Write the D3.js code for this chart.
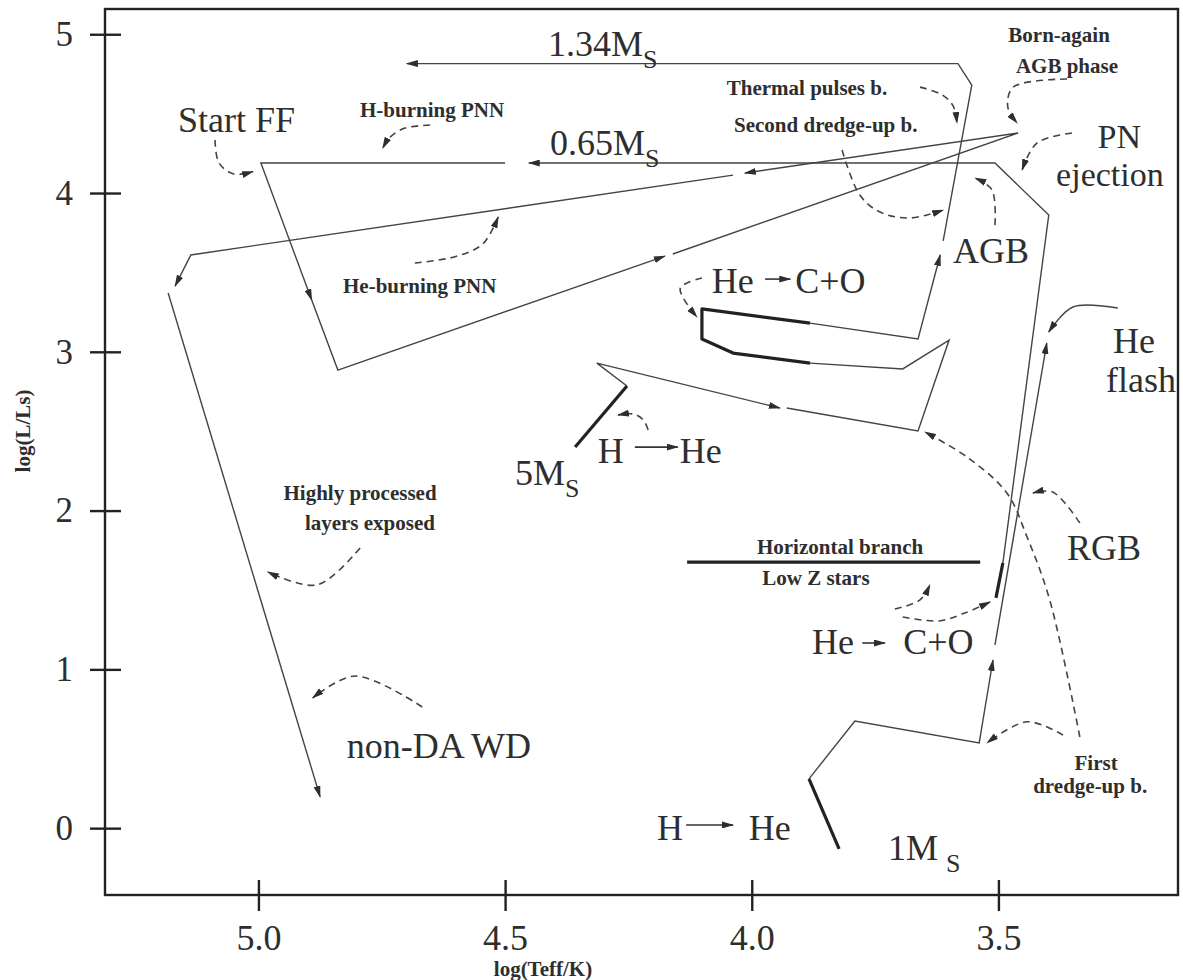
<!DOCTYPE html>
<html>
<head>
<meta charset="utf-8">
<script src="https://cdn.jsdelivr.net/npm/d3@7"></script>
<style>
  body { margin: 0; background: #fff; }
  svg { display: block; font-family: "Liberation Serif", "Times New Roman", serif; }
  .big { font-size: 36px; fill: #2e2e2e; }
  .note { font-size: 21px; font-weight: bold; fill: #2e2e2e; }
</style>
</head>
<body>
<svg width="1183" height="980"></svg>
<script>
// axes
const xTicks = [5.0, 4.5, 4.0, 3.5];
const yTicks = [0, 1, 2, 3, 4, 5];

// tracks as [log Teff, log L/Ls]
// thick parts (nuclear burning phases)
const thickTracks = [
  [[3.823, -0.131], [3.884, 0.310]],                                          // 1Ms main sequence
  [[3.505, 1.450], [3.491, 1.670]],                                           // 1Ms He core burning
  [[4.358, 2.400], [4.253, 2.785]],                                           // 5Ms main sequence
  [[3.882, 2.929], [4.038, 2.992], [4.101, 3.081], [4.101, 3.270], [3.882, 3.181]], // 5Ms blue loop
  [[4.131, 1.676], [3.537, 1.676]]                                            // horizontal branch
];

// thin parts ending with an arrow head
const arrowTracks = [
  [[3.884, 0.310], [3.791, 0.675], [3.539, 0.537], [3.511, 1.059]],
  [[3.507, 1.154], [3.402, 3.055]],
  [[3.491, 1.670], [3.398, 3.861], [3.507, 4.189], [4.452, 4.189]],
  [[4.500, 4.189], [4.995, 4.189], [4.892, 3.326]],
  [[4.892, 3.326], [4.839, 2.885], [4.176, 3.603]],
  [[4.160, 3.616], [3.460, 4.378], [4.014, 4.126]],
  [[4.038, 4.113], [5.137, 3.610], [5.169, 3.414]],
  [[5.183, 3.370], [4.875, 0.197]],
  [[4.253, 2.785], [4.314, 2.929], [3.943, 2.646]],
  [[3.882, 3.181], [3.663, 3.081], [3.618, 3.610]],
  [[3.612, 3.698], [3.554, 4.680], [3.582, 4.815], [4.699, 4.815]]
];

// thin parts without arrow
const plainTracks = [
  [[3.929, 2.646], [3.663, 2.501], [3.600, 3.074], [3.694, 2.892], [3.882, 2.929]]
];

// dashed pointers from the notes
const pointers = [
  [[5.088, 4.334], [5.080, 4.190], [5.050, 4.120], [5.011, 4.135]],
  [[4.652, 4.428], [4.703, 4.409], [4.733, 4.352], [4.748, 4.283]],
  [[4.683, 3.559], [4.600, 3.600], [4.545, 3.680], [4.514, 3.849]],
  [[3.659, 4.667], [3.615, 4.620], [3.592, 4.550], [3.584, 4.441]],
  [[3.817, 4.271], [3.781, 3.987], [3.740, 3.880], [3.679, 3.843], [3.612, 3.893]],
  [[3.361, 4.718], [3.470, 4.667], [3.481, 4.541], [3.462, 4.441]],
  [[3.351, 4.378], [3.422, 4.315], [3.452, 4.145]],
  [[3.507, 3.798], [3.513, 4.019], [3.547, 4.094]],
  [[4.101, 3.465], [4.145, 3.400], [4.111, 3.219]],
  [[4.210, 2.508], [4.220, 2.571], [4.240, 2.608], [4.271, 2.602]],
  [[3.335, 0.574], [3.396, 1.437], [3.442, 1.834], [3.483, 2.111], [3.564, 2.338], [3.649, 2.495]],
  [[3.369, 0.586], [3.442, 0.670], [3.523, 0.537]],
  [[3.335, 1.922], [3.390, 2.117], [3.430, 2.111]],
  [[3.710, 1.380], [3.659, 1.437], [3.639, 1.532]],
  [[3.694, 1.330], [3.621, 1.305], [3.568, 1.355], [3.517, 1.424]],
  [[4.794, 1.765], [4.881, 1.532], [4.981, 1.613]],
  [[4.668, 0.763], [4.804, 0.958], [4.890, 0.820]]
];

// He flash pointer (solid)
const flashPointer = [[3.258, 3.276], [3.349, 3.282], [3.398, 3.125]];

// small arrows inside the reaction labels
const textArrows = [
  [[3.973, 3.458], [3.922, 3.458]],
  [[3.776, 1.166], [3.730, 1.166]],
  [[4.237, 2.400], [4.150, 2.400]],
  [[4.133, 0.020], [4.038, 0.020]]
];

const bigLabels = [
  { text: '1.34M', sub: 'S', at: [4.413, 4.863] },
  { text: '0.65M', sub: 'S', at: [4.409, 4.239] },
  { text: 'Start FF', at: [5.163, 4.384] },
  { text: 'PN', at: [3.255, 4.284], anchor: 'middle', size: 34 },
  { text: 'ejection', at: [3.274, 4.044], anchor: 'middle', size: 34 },
  { text: 'AGB', at: [3.592, 3.559] },
  { text: 'He', at: [4.081, 3.370] },
  { text: 'C+O', at: [3.912, 3.370] },
  { text: 'H', at: [4.312, 2.300] },
  { text: 'He', at: [4.146, 2.300] },
  { text: '5M', sub: 'S', at: [4.480, 2.162] },
  { text: 'He', at: [3.225, 2.992], anchor: 'middle' },
  { text: 'flash', at: [3.211, 2.747], anchor: 'middle' },
  { text: 'RGB', at: [3.361, 1.689] },
  { text: 'He', at: [3.878, 1.097] },
  { text: 'C+O', at: [3.693, 1.097] },
  { text: 'non-DA WD', at: [4.821, 0.442] },
  { text: 'H', at: [4.192, -0.074] },
  { text: 'He', at: [4.006, -0.074] },
  { text: '1M', sub: 'S', at: [3.724, -0.200] }
];

const notes = [
  { text: 'H-burning PNN', at: [4.648, 4.479] },
  { text: 'He-burning PNN', at: [4.673, 3.370] },
  { text: 'Thermal pulses b.', at: [3.888, 4.617] },
  { text: 'Second dredge-up b.', at: [3.850, 4.384] },
  { text: 'Born-again', at: [3.377, 4.951] },
  { text: 'AGB phase', at: [3.361, 4.756] },
  { text: 'Highly processed', at: [4.794, 2.067] },
  { text: 'layers exposed', at: [4.774, 1.878] },
  { text: 'Horizontal branch', at: [3.821, 1.727] },
  { text: 'Low Z stars', at: [3.870, 1.531] },
  { text: 'First', at: [3.302, 0.367] },
  { text: 'dredge-up b.', at: [3.314, 0.222] }
];

let svg = d3.select('svg');

let x = d3.scaleLinear().domain([5.311, 3.136]).range([105, 1178]);
let y = d3.scaleLinear().domain([-0.421, 5.159]).range([895, 9]);

// arrow heads
let defs = svg.append('defs');
defs.append('marker')
  .attr('id', 'head')
  .attr('viewBox', '0 0 12 7')
  .attr('refX', 11).attr('refY', 3.5)
  .attr('markerWidth', 12).attr('markerHeight', 7)
  .attr('markerUnits', 'userSpaceOnUse')
  .attr('orient', 'auto')
  .append('path').attr('d', 'M0,0 L12,3.5 L0,7 Z').attr('fill', '#2e2e2e');

let line = d3.line().x(d => x(d[0])).y(d => y(d[1]));
let curve = d3.line().x(d => x(d[0])).y(d => y(d[1])).curve(d3.curveCatmullRom.alpha(0.5));

// frame
svg.append('rect')
  .attr('x', 105).attr('y', 9)
  .attr('width', 1178 - 105).attr('height', 895 - 9)
  .attr('fill', 'none').attr('stroke', '#222').attr('stroke-width', 2.4);

// y axis
let gy = svg.append('g')
  .attr('transform', 'translate(105,0)')
  .call(d3.axisLeft(y).tickValues(yTicks).tickFormat(d3.format('d')).tickSize(15).tickPadding(17));
gy.select('.domain').remove();
gy.selectAll('.tick line').attr('x1', 16).attr('stroke', '#222').attr('stroke-width', 2.4);
gy.selectAll('.tick text').attr('font-size', 35).attr('font-family', '"Liberation Serif", serif').attr('fill', '#2e2e2e');

// x axis
let gx = svg.append('g')
  .attr('transform', 'translate(0,895)')
  .call(d3.axisBottom(x).tickValues(xTicks).tickFormat(d3.format('.1f')).tickSize(16).tickPadding(13));
gx.select('.domain').remove();
gx.selectAll('.tick line').attr('y1', -15).attr('stroke', '#222').attr('stroke-width', 2.4);
gx.selectAll('.tick text').attr('font-size', 36).attr('font-family', '"Liberation Serif", serif').attr('fill', '#2e2e2e');

svg.append('text')
  .attr('class', 'note')
  .attr('font-size', 19)
  .attr('text-anchor', 'middle')
  .attr('transform', 'translate(30,431) rotate(-90)')
  .text('log(L/Ls)');

svg.append('text')
  .attr('class', 'note')
  .attr('font-size', 19)
  .attr('text-anchor', 'middle')
  .attr('x', 543).attr('y', 976)
  .text('log(Teff/K)');

// tracks
svg.append('g').selectAll('path')
  .data(plainTracks).enter().append('path')
  .attr('d', line)
  .attr('fill', 'none').attr('stroke', '#444').attr('stroke-width', 1.4);

svg.append('g').selectAll('path')
  .data(arrowTracks).enter().append('path')
  .attr('d', line)
  .attr('fill', 'none').attr('stroke', '#444').attr('stroke-width', 1.4)
  .attr('marker-end', 'url(#head)');

svg.append('g').selectAll('path')
  .data(thickTracks).enter().append('path')
  .attr('d', line)
  .attr('fill', 'none').attr('stroke', '#222').attr('stroke-width', 3.2)
  .attr('stroke-linejoin', 'round');

// pointers
svg.append('g').selectAll('path')
  .data(pointers).enter().append('path')
  .attr('d', curve)
  .attr('fill', 'none').attr('stroke', '#444').attr('stroke-width', 1.6)
  .attr('stroke-dasharray', '7,5')
  .attr('marker-end', 'url(#head)');

svg.append('path')
  .datum(flashPointer)
  .attr('d', curve)
  .attr('fill', 'none').attr('stroke', '#444').attr('stroke-width', 1.5)
  .attr('marker-end', 'url(#head)');

svg.append('g').selectAll('path')
  .data(textArrows).enter().append('path')
  .attr('d', line)
  .attr('fill', 'none').attr('stroke', '#333').attr('stroke-width', 1.6)
  .attr('marker-end', 'url(#head)');

// labels
let big = svg.append('g').selectAll('text')
  .data(bigLabels).enter().append('text')
  .attr('class', 'big')
  .attr('x', d => x(d.at[0]))
  .attr('y', d => y(d.at[1]))
  .attr('font-size', d => d.size || null)
  .style('font-size', d => d.size ? d.size + 'px' : null)
  .attr('text-anchor', d => d.anchor || 'start');
big.append('tspan').text(d => d.text);
big.filter(d => d.sub).append('tspan')
  .style('font-size', '26px')
  .attr('dx', d => d.text === '1M' ? 8 : 0)
  .attr('dy', 12)
  .text(d => d.sub);

svg.append('g').selectAll('text')
  .data(notes).enter().append('text')
  .attr('class', 'note')
  .attr('x', d => x(d.at[0]))
  .attr('y', d => y(d.at[1]))
  .attr('text-anchor', 'middle')
  .text(d => d.text);
</script>
</body>
</html>
